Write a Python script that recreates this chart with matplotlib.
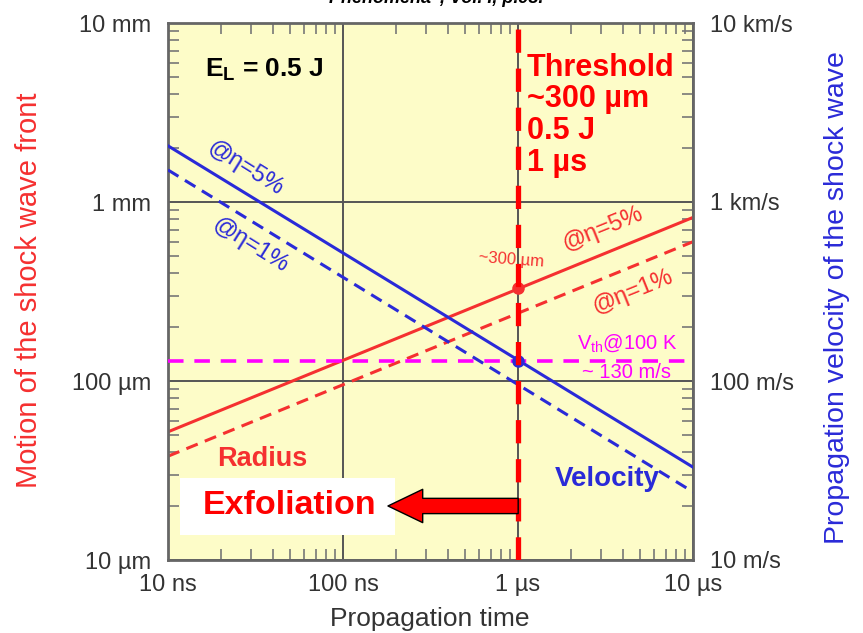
import matplotlib
matplotlib.use("Agg")
import matplotlib.pyplot as plt
from matplotlib.patches import Rectangle
from matplotlib.ticker import NullLocator

# Sedov-Taylor blast wave, E_L = 0.5 J
# propagation time span (s)
t_span = [1e-8, 1e-5]

# shock front radius (m) at the ends of the span
radius_eta5 = [52e-6, 0.82e-3]
radius_eta1 = [38e-6, 0.60e-3]

# shock front velocity (m/s) at the ends of the span
velocity_eta5 = [2060, 33]
velocity_eta1 = [1510, 24]

# threshold point at 1 us
t_threshold = 1e-6
r_threshold = 0.33e-3
v_thermal = 130   # thermal velocity at 100 K

x_ticks = [1e-8, 1e-7, 1e-6, 1e-5]
x_labels = ["10 ns", "100 ns", "1 \u00b5s", "10 \u00b5s"]
r_ticks = [1e-5, 1e-4, 1e-3, 1e-2]
r_labels = ["10 \u00b5m", "100 \u00b5m", "1 mm", "10 mm"]
v_ticks = [10, 100, 1000, 10000]
v_labels = ["10 m/s", "100 m/s", "1 km/s", "10 km/s"]

RED = "#f53030"
BLUE = "#2a2ad8"
MAGENTA = "#ff00ff"
GREY = "#333333"

plt.rcParams["font.family"] = ["Liberation Sans", "DejaVu Sans"]
plt.rcParams["mathtext.fontset"] = "custom"
plt.rcParams["mathtext.rm"] = "Liberation Sans"
plt.rcParams["mathtext.bf"] = "Liberation Sans:bold"

fig = plt.figure(figsize=(8.63, 6.33), dpi=100)
ax = fig.add_axes([168 / 863, 1 - 560 / 633, 525 / 863, 537 / 633])
ax.set_facecolor("#fdfcc8")
ax.set_xscale("log")
ax.set_yscale("log")
ax.set_xlim(1e-8, 1e-5)
ax.set_ylim(1e-5, 1e-2)

for sp in ax.spines.values():
    sp.set_color("#666666")
    sp.set_linewidth(2)

ax.grid(True, which="major", color="#555555", lw=1.4)
ax.set_axisbelow(True)
ax.set_xticks(x_ticks)
ax.set_xticklabels(x_labels)
ax.set_yticks(r_ticks)
ax.set_yticklabels(r_labels)

# radius of the shock front
ax.plot(t_span, radius_eta5, color=RED, lw=2.2)
ax.plot(t_span, radius_eta1, color=RED, lw=2.2, dashes=(4, 2.5))
ax.plot([t_threshold], [r_threshold], "o", color=RED, ms=8)

# velocity axis on the right
ax2 = ax.twinx()
ax2.set_yscale("log")
ax2.set_ylim(10, 1e4)
ax2.set_yticks(v_ticks)
ax2.set_yticklabels(v_labels)
ax2.yaxis.set_minor_locator(NullLocator())
ax2.tick_params(axis="y", which="both", length=0, labelsize=17, labelcolor=GREY, pad=12)
for sp in ax2.spines.values():
    sp.set_visible(False)

# ticks of the main axes on all four sides, pointing inwards
ax.tick_params(which="both", direction="in", top=True, right=True, color="#777777", width=1.2)
ax.tick_params(which="major", length=0)
ax.tick_params(which="minor", length=8)
ax.tick_params(axis="y", labelsize=17, labelcolor=GREY, pad=12, labelright=False)
ax.tick_params(axis="x", labelsize=17, labelcolor=GREY, pad=10, labeltop=False)

ax2.plot(t_span, velocity_eta5, color=BLUE, lw=2.2)
ax2.plot(t_span, velocity_eta1, color=BLUE, lw=2.2, dashes=(4, 2.5))
ax2.axhline(v_thermal, color=MAGENTA, lw=2.6, dashes=(4.3, 3))
ax2.plot([t_threshold], [v_thermal], "o", color=BLUE, ms=8)
ax2.axvline(t_threshold, color="#ff0000", lw=3.8, dashes=(4.4, 3))

# labels
ax.set_xlabel("Propagation time", fontsize=19, color=GREY)
ax.xaxis.set_label_coords(0.499, -0.088)
ax.set_ylabel("Motion of the shock wave front", fontsize=21, color=RED)
ax.yaxis.set_label_coords(-0.238, 0.503)
ax2.set_ylabel("Propagation velocity of the shock wave", fontsize=20.5, color=BLUE)
ax2.yaxis.set_label_coords(1.250, 0.488)

fig.text(0.5, 1.003, "\u201cPhenomena\u201d, Vol. I, p.98.", ha="center", va="center",
         fontsize=13, fontweight="bold", fontstyle="italic")

tr = ax2.transAxes
ax2.text(0.070, 0.9125, r"E$_{\mathbf{L}}$ = 0.5 J", transform=tr, fontsize=19,
         fontweight="bold", va="center", ha="left")
ax2.text(0.684, 0.945, "Threshold\n~300 \u00b5m\n0.5 J\n1 \u00b5s", transform=tr,
         fontsize=22, fontweight="bold", color="#ff0000", va="top", ha="left",
         linespacing=1.08)

ax2.text(0.147, 0.730, "@\u03b7=5%", transform=tr, fontsize=17, color=BLUE,
         rotation=-32, ha="center", va="center")
ax2.text(0.156, 0.587, "@\u03b7=1%", transform=tr, fontsize=17, color=BLUE,
         rotation=-32, ha="center", va="center")
ax2.text(0.828, 0.617, "@\u03b7=5%", transform=tr, fontsize=17, color=RED,
         rotation=22, ha="center", va="center")
ax2.text(0.884, 0.499, "@\u03b7=1%", transform=tr, fontsize=17, color=RED,
         rotation=22, ha="center", va="center")
ax2.text(0.653, 0.559, "~300 \u00b5m", transform=tr, fontsize=12, color=RED,
         rotation=-4, ha="center", va="center")
ax2.text(0.874, 0.404, r"V$_{\rm th}$@100 K", transform=tr, fontsize=14.5,
         color=MAGENTA, ha="center", va="center")
ax2.text(0.874, 0.350, "~ 130 m/s", transform=tr, fontsize=14.5,
         color=MAGENTA, ha="center", va="center")

ax2.text(0.180, 0.188, "Radius", transform=tr, fontsize=19.5, fontweight="bold",
         color=RED, ha="center", va="center")
ax2.text(0.836, 0.150, "Velocity", transform=tr, fontsize=20, fontweight="bold",
         color=BLUE, ha="center", va="center")

# exfoliation box and arrow
ax2.add_patch(Rectangle((0.023, 0.047), 0.409, 0.106, transform=tr,
                        facecolor="white", edgecolor="none", zorder=4))
ax2.text(0.232, 0.1006, "Exfoliation", transform=tr, fontsize=24.5, fontweight="bold",
         color="#ff0000", ha="center", va="center", zorder=5)
ax2.annotate("", xy=(0.419, 0.1006), xytext=(0.667, 0.1006),
             xycoords="axes fraction", textcoords="axes fraction",
             arrowprops=dict(arrowstyle="simple,head_length=1.25,head_width=1.2,tail_width=0.55",
                             mutation_scale=20, facecolor="#ff0000", edgecolor="black",
                             lw=1, shrinkA=0, shrinkB=0),
             zorder=6)

fig.savefig("out.png", dpi=100, facecolor="white")
